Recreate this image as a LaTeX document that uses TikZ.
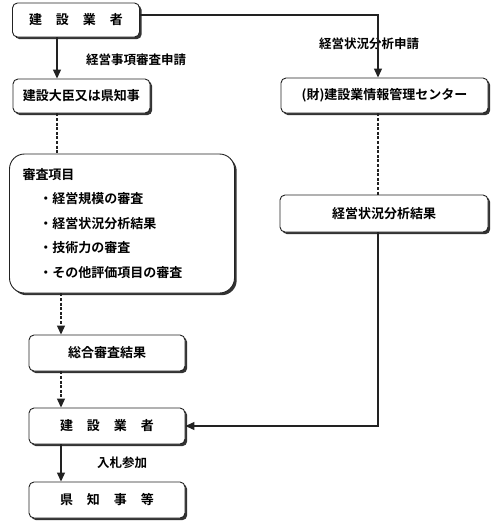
\documentclass[tikz,border=0pt]{standalone}
\usepackage{fontspec}
\setmainfont{Noto Sans CJK JP}[BoldFont={Noto Sans CJK JP Bold}]
\usetikzlibrary{arrows.meta,shadows}
\definecolor{LineGray}{HTML}{222222}
\definecolor{ShadowGray}{HTML}{333333}

\begin{document}
\begin{tikzpicture}[
  x=1pt, y=-1pt,
  font=\bfseries\fontsize{13}{15}\selectfont,
  stepbox/.style={draw=LineGray, line width=0.9pt, rounded corners=5pt, fill=white,
    drop shadow={shadow xshift=2.2pt, shadow yshift=-2.2pt, fill=ShadowGray, opacity=1},
    minimum height=34pt, inner sep=0pt},
  listbox/.style={stepbox, rounded corners=15pt, align=left, text width=199pt,
    minimum width=225pt, minimum height=139pt, inner xsep=13pt,
    font=\bfseries\fontsize{13}{24.5}\selectfont},
  tag/.style={font=\bfseries\fontsize{12.5}{15}\selectfont},
  flow/.style={-{Triangle[length=9pt, width=8pt]}, line width=1.2pt, draw=LineGray},
  dashlink/.style={line width=1.2pt, draw=LineGray, dash pattern=on 3pt off 1.6pt},
  dashflow/.style={dashlink, -{Triangle[length=9pt, width=8pt]}}
]
\useasboundingbox (0,0) rectangle (500,530);

\node[stepbox, minimum width=127pt] (firm) at (76,20) {建\hspace{14pt}設\hspace{14pt}業\hspace{14pt}者};
\node[stepbox, minimum width=137pt] (minister) at (81.5,96) {建設大臣又は県知事};
\node[listbox] (items) at (122,223.5)
  {審査項目\\
   \hspace{17pt}・経営規模の審査\\
   \hspace{17pt}・経営状況分析結果\\
   \hspace{17pt}・技術力の審査\\
   \hspace{17pt}・その他評価項目の審査};
\node[stepbox, minimum width=156pt, minimum height=36pt] (overall) at (107,353) {総合審査結果};
\node[stepbox, minimum width=156pt, minimum height=36pt] (bidder) at (107,426) {建\hspace{14pt}設\hspace{14pt}業\hspace{14pt}者};
\node[stepbox, minimum width=156pt, minimum height=36pt] (governor) at (107,500) {県\hspace{14pt}知\hspace{14pt}事\hspace{14pt}等};

\node[stepbox, minimum width=207pt, minimum height=35pt] (center) at (384.5,95.5) {(財)建設業情報管理センター};
\node[stepbox, minimum width=208pt, minimum height=37pt] (analysis) at (384,213.5) {経営状況分析結果};

\node[tag] (apply) at (136,60) {経営事項審査申請};
\node[tag] (request) at (369,44) {経営状況分析申請};
\node[tag] (bid) at (122,463) {入札参加};

\coordinate (lx) at (57,0);
\coordinate (mx) at (61,0);
\coordinate (rx) at (378,0);
\coordinate (ty) at (0,15);

\draw[flow] (firm.south -| lx) -- (minister.north -| lx);
\draw[flow] (firm.east |- ty) -| (center.north -| rx);
\draw[dashlink] (minister.south -| lx) -- (items.north -| lx);
\draw[dashflow] (items.south -| mx) -- (overall.north -| mx);
\draw[dashflow] (overall.south -| mx) -- (bidder.north -| mx);
\draw[flow] (bidder.south -| mx) -- (governor.north -| mx);
\draw[dashlink] (center.south -| rx) -- (analysis.north -| rx);
\draw[flow] (analysis.south -| rx) |- (bidder.east);

\end{tikzpicture}
\end{document}
